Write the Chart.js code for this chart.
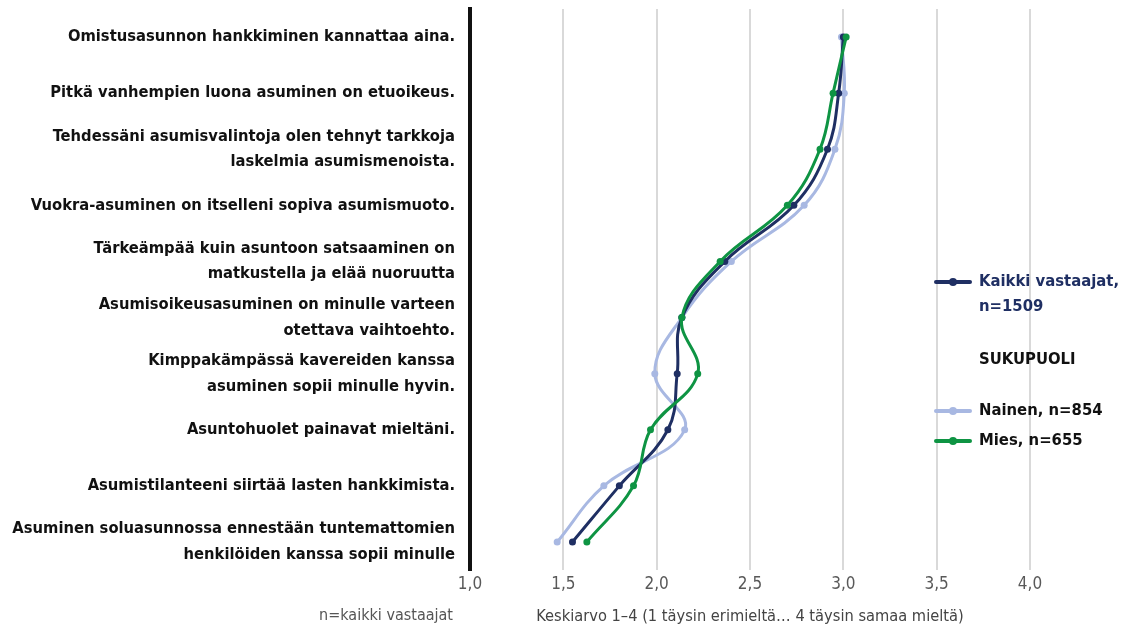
<!DOCTYPE html>
<html>
<head>
<meta charset="utf-8">
<script src="https://cdn.jsdelivr.net/npm/chart.js@4/dist/chart.umd.min.js"></script>
<style>
html,body{margin:0;padding:0;background:#fff;}
#wrap{position:relative;width:1122px;height:635px;}
</style>
</head>
<body>
<div id="wrap"><canvas id="c" width="1122" height="635"></canvas></div>
<script>
const categories = [
  ["Omistusasunnon hankkiminen kannattaa aina."],
  ["Pitkä vanhempien luona asuminen on etuoikeus."],
  ["Tehdessäni asumisvalintoja olen tehnyt tarkkoja","laskelmia asumismenoista."],
  ["Vuokra-asuminen on itselleni sopiva asumismuoto."],
  ["Tärkeämpää kuin asuntoon satsaaminen on","matkustella ja elää nuoruutta"],
  ["Asumisoikeusasuminen on minulle varteen","otettava vaihtoehto."],
  ["Kimppakämpässä kavereiden kanssa","asuminen sopii minulle hyvin."],
  ["Asuntohuolet painavat mieltäni."],
  ["Asumistilanteeni siirtää lasten hankkimista."],
  ["Asuminen soluasunnossa ennestään tuntemattomien","henkilöiden kanssa sopii minulle"]
];
const kaikki = [3.00, 2.975, 2.915, 2.735, 2.365, 2.135, 2.11, 2.06, 1.80, 1.549];
const nainen = [2.99, 3.005, 2.955, 2.79, 2.40, 2.135, 1.99, 2.15, 1.717, 1.467];
const mies   = [3.015, 2.945, 2.875, 2.70, 2.34, 2.135, 2.22, 1.967, 1.876, 1.626];
const xTicks = [1.0, 1.5, 2.0, 2.5, 3.0, 3.5, 4.0];
const seriesNames = ["Kaikki vastaajat,\nn=1509", "Nainen, n=854", "Mies, n=655"];
const groupTitle = "SUKUPUOLI";
const xTitle = "Keskiarvo 1–4 (1 täysin erimieltä… 4 täysin samaa mieltä)";
const footNote = "n=kaikki vastaajat";

const C_DARK = "#1f2f63", C_LIGHT = "#a8b8e2", C_GREEN = "#0e9443";
const FONT = "'DejaVu Sans Condensed','Liberation Sans Narrow','Open Sans',sans-serif";

const legendPlugin = {
  id: 'customLegend',
  afterDraw(chart) {
    const ctx = chart.ctx;
    ctx.save();
    const items = [
      {lines: seriesNames[0].split("\n"), color: C_DARK, text: C_DARK, y: 282},
      {lines: seriesNames[1].split("\n"), color: C_LIGHT, text: "#111", y: 411},
      {lines: seriesNames[2].split("\n"), color: C_GREEN, text: "#111", y: 441}
    ];
    ctx.font = "bold 16.5px " + FONT;
    ctx.textBaseline = "middle";
    ctx.textAlign = "left";
    items.forEach(it => {
      ctx.strokeStyle = it.color; ctx.lineWidth = 4; ctx.lineCap = "round";
      ctx.beginPath(); ctx.moveTo(936, it.y); ctx.lineTo(970, it.y); ctx.stroke();
      ctx.fillStyle = it.color;
      ctx.beginPath(); ctx.arc(953, it.y, 4, 0, Math.PI*2); ctx.fill();
      ctx.fillStyle = it.text;
      it.lines.forEach((l, i) => ctx.fillText(l, 979, it.y + i*25));
    });
    ctx.fillStyle = "#111";
    ctx.fillText(groupTitle, 979, 360);
    ctx.font = "16px " + FONT;
    ctx.fillStyle = "#555";
    ctx.textAlign = "right";
    ctx.fillText(footNote, 453, 616);
    ctx.restore();
  }
};

new Chart(document.getElementById('c'), {
  type: 'line',
  data: {
    labels: categories,
    datasets: [
      {label: seriesNames[2], data: mies, borderColor: C_GREEN, backgroundColor: C_GREEN},
      {label: seriesNames[0], data: kaikki, borderColor: C_DARK, backgroundColor: C_DARK},
      {label: seriesNames[1], data: nainen, borderColor: C_LIGHT, backgroundColor: C_LIGHT}
    ]
  },
  options: {
    indexAxis: 'y',
    responsive: false,
    animation: false,
    datasets: { line: { borderWidth: 3, tension: 0.4, pointRadius: 3.5, pointBorderWidth: 0, fill: false } },
    layout: { padding: { top: 9, right: 92, left: 0, bottom: 0 } },
    plugins: { legend: { display: false }, tooltip: { enabled: false } },
    scales: {
      y: {
        type: 'category',
        offset: true,
        grid: { display: false, drawTicks: false },
        border: { display: true, color: '#111', width: 4 },
        ticks: {
          color: '#111',
          font: { family: FONT, size: 16.4, weight: 'bold', lineHeight: 1.55 },
          padding: 15,
          autoSkip: false
        },
        afterFit(s) { s.width = 470; s.paddingTop = 0; s.paddingBottom = 0; }
      },
      x: {
        type: 'linear',
        min: 1, max: 4,
        grid: { color: '#d9d9d9', lineWidth: 2, drawTicks: false },
        border: { display: false },
        afterBuildTicks(s) { s.ticks = xTicks.map(v => ({value: v})); },
        ticks: {
          color: '#595959',
          font: { family: FONT, size: 17 },
          padding: 4,
          callback: v => v.toFixed(1).replace('.', ',')
        },
        title: {
          display: true, text: xTitle, color: '#444',
          font: { family: FONT, size: 16.3 },
          padding: { top: 0, bottom: 8 }
        },
        afterFit(s) { s.height = 65; }
      }
    }
  },
  plugins: [legendPlugin]
});
</script>
</body>
</html>
